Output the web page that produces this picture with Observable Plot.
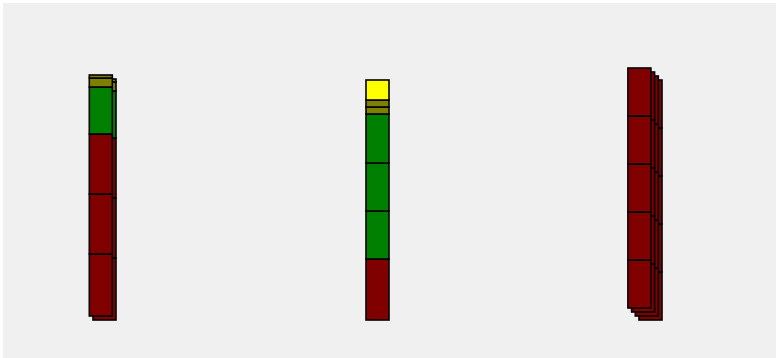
<!DOCTYPE html>
<html>
<head>
<meta charset="utf-8">
<script src="https://cdn.jsdelivr.net/npm/d3@7"></script>
<script src="https://cdn.jsdelivr.net/npm/@observablehq/plot@0.6"></script>
<style>
  html, body { margin: 0; padding: 0; background: #ffffff; overflow: hidden; }
  #chart { padding: 3px 0 0 3px; }
</style>
</head>
<body>
<div id="chart"></div>
<script>
// Categories (bars along x)
const bars = ["A", "B", "C"];
// Number of depth layers drawn for each bar (back-most first)
const layersPerBar = [2, 1, 4];
// Segment values for each bar, bottom to top
const segmentValues = [
  [62, 60, 60, 47, 9, 3],
  [61, 48, 48, 49, 7, 7, 20],
  [48, 48, 48, 48, 48]
];
// Series of each segment
const segmentSeries = [
  ["s1", "s1", "s1", "s2", "s3", "s3"],
  ["s1", "s2", "s2", "s2", "s3", "s3", "s4"],
  ["s1", "s1", "s1", "s1", "s1"]
];
const seriesNames = ["s1", "s2", "s3", "s4"];
const seriesColors = ["#800000", "#008000", "#808000", "#ffff00"];

// Build table
const table = [];
bars.forEach((bar, i) => {
  for (let k = 0; k < layersPerBar[i]; k++) {
    let acc = 0;
    segmentValues[i].forEach((v, j) => {
      table.push({bar, layer: k, series: segmentSeries[i][j], y1: acc, y2: acc + v});
      acc += v;
    });
  }
});

const maxLayers = d3.max(layersPerBar);
const layerMarks = d3.range(maxLayers).map(k =>
  Plot.barY(table.filter(d => d.layer === k), {
    x: "bar", y1: "y1", y2: "y2", fill: "series",
    stroke: "black", strokeWidth: 1.6,
    dx: -3.7 * k, dy: -4 * k
  })
);

const chart = Plot.plot({
  width: 773,
  height: 355,
  marginTop: 67,
  marginBottom: 38,
  marginLeft: 0,
  marginRight: 0,
  style: {background: "#f0f0f0"},
  x: {domain: bars, range: [89.6, 659.2], paddingInner: 0.9158, paddingOuter: 0, axis: null},
  y: {domain: [0, 250], axis: null},
  color: {domain: seriesNames, range: seriesColors},
  marks: layerMarks
});
document.getElementById("chart").appendChild(chart);
</script>
</body>
</html>
